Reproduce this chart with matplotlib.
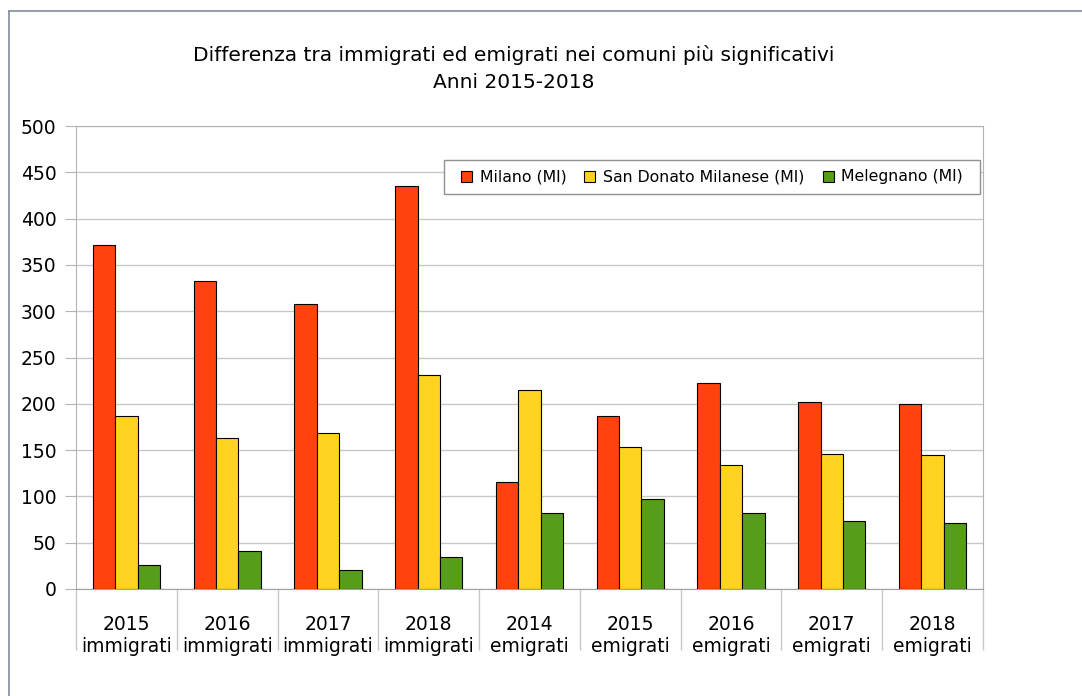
import numpy as np
import matplotlib
matplotlib.use('Agg')
from matplotlib import pyplot as plt
from matplotlib.lines import Line2D
from matplotlib.patches import Rectangle

# Dati
categorie = ['2015\nimmigrati', '2016\nimmigrati', '2017\nimmigrati', '2018\nimmigrati',
             '2014\nemigrati', '2015\nemigrati', '2016\nemigrati', '2017\nemigrati', '2018\nemigrati']
milano = [372, 333, 308, 435, 116, 187, 223, 202, 200]
san_donato = [187, 163, 169, 231, 215, 153, 134, 146, 145]
melegnano = [26, 41, 21, 35, 82, 97, 82, 73, 71]
serie = ['Milano (MI)', 'San Donato Milanese (MI)', 'Melegnano (MI)']
colori = ['#FF420E', '#FFD320', '#579D1C']

plt.rcParams['font.family'] = ['DejaVu Sans']

W, H = 1082, 696
fig = plt.figure(figsize=(W / 100, H / 100), dpi=100)
ax = fig.add_axes([76 / W, 1 - 589 / H, (983 - 76) / W, (589 - 126) / H])

x = np.arange(len(categorie))
w = 0.222
for i, (valori, nome, col) in enumerate(zip([milano, san_donato, melegnano], serie, colori)):
    ax.bar(x + (i - 1) * w, valori, w, color=col, edgecolor='black', linewidth=0.8,
           label=nome, zorder=3)

ax.set_xlim(-0.5, len(categorie) - 0.5)
ax.set_ylim(0, 500)
ax.set_yticks(np.arange(0, 501, 50))
ax.grid(axis='y', color='#c8c8c8', linewidth=1, zorder=0)
for s in ax.spines.values():
    s.set_color('#b3b3b3')
ax.spines['bottom'].set_color('#a0a0a0')

ax.tick_params(axis='y', length=8, color='#b3b3b3', pad=6, labelsize=13.5)
ax.set_xticks(x)
ax.set_xticklabels(categorie, fontsize=13.5, linespacing=1.15)
ax.tick_params(axis='x', which='major', length=0, pad=19)
ax.set_xticks(np.arange(-0.5, len(categorie)), minor=True)
ax.tick_params(axis='x', which='minor', length=44, color='#c8c8c8', width=1)

# riquadro della legenda
x0, y0, x1, y1 = 444, 160, 980, 194
ax.add_patch(Rectangle((x0 / W, 1 - y1 / H), (x1 - x0) / W, (y1 - y0) / H,
                       transform=fig.transFigure, facecolor='white', clip_on=False,
                       edgecolor='#909090', linewidth=1, zorder=4))
leg = ax.legend(loc='center', bbox_to_anchor=((x0 + x1) / 2 / W, 1 - (y0 + y1) / 2 / H),
                bbox_transform=fig.transFigure, ncol=3, fontsize=11.3, frameon=False,
                handlelength=0.7, handleheight=0.7, handletextpad=0.5, columnspacing=1.15,
                borderpad=0)
leg.set_zorder(5)

fig.text(514 / W, 1 - 55 / H, 'Differenza tra immigrati ed emigrati nei comuni più significativi',
         ha='center', va='center', fontsize=14.5)
fig.text(514 / W, 1 - 83 / H, 'Anni 2015-2018', ha='center', va='center', fontsize=14.5)

# cornice
fig.add_artist(Line2D([8.5 / W, 8.5 / W], [0, 1 - 11 / H], transform=fig.transFigure,
                      color='#7f8c9a', linewidth=1.2))
fig.add_artist(Line2D([8.5 / W, 1], [1 - 11 / H, 1 - 11 / H], transform=fig.transFigure,
                      color='#7f8c9a', linewidth=1.2))

fig.savefig('out.png', dpi=100)
